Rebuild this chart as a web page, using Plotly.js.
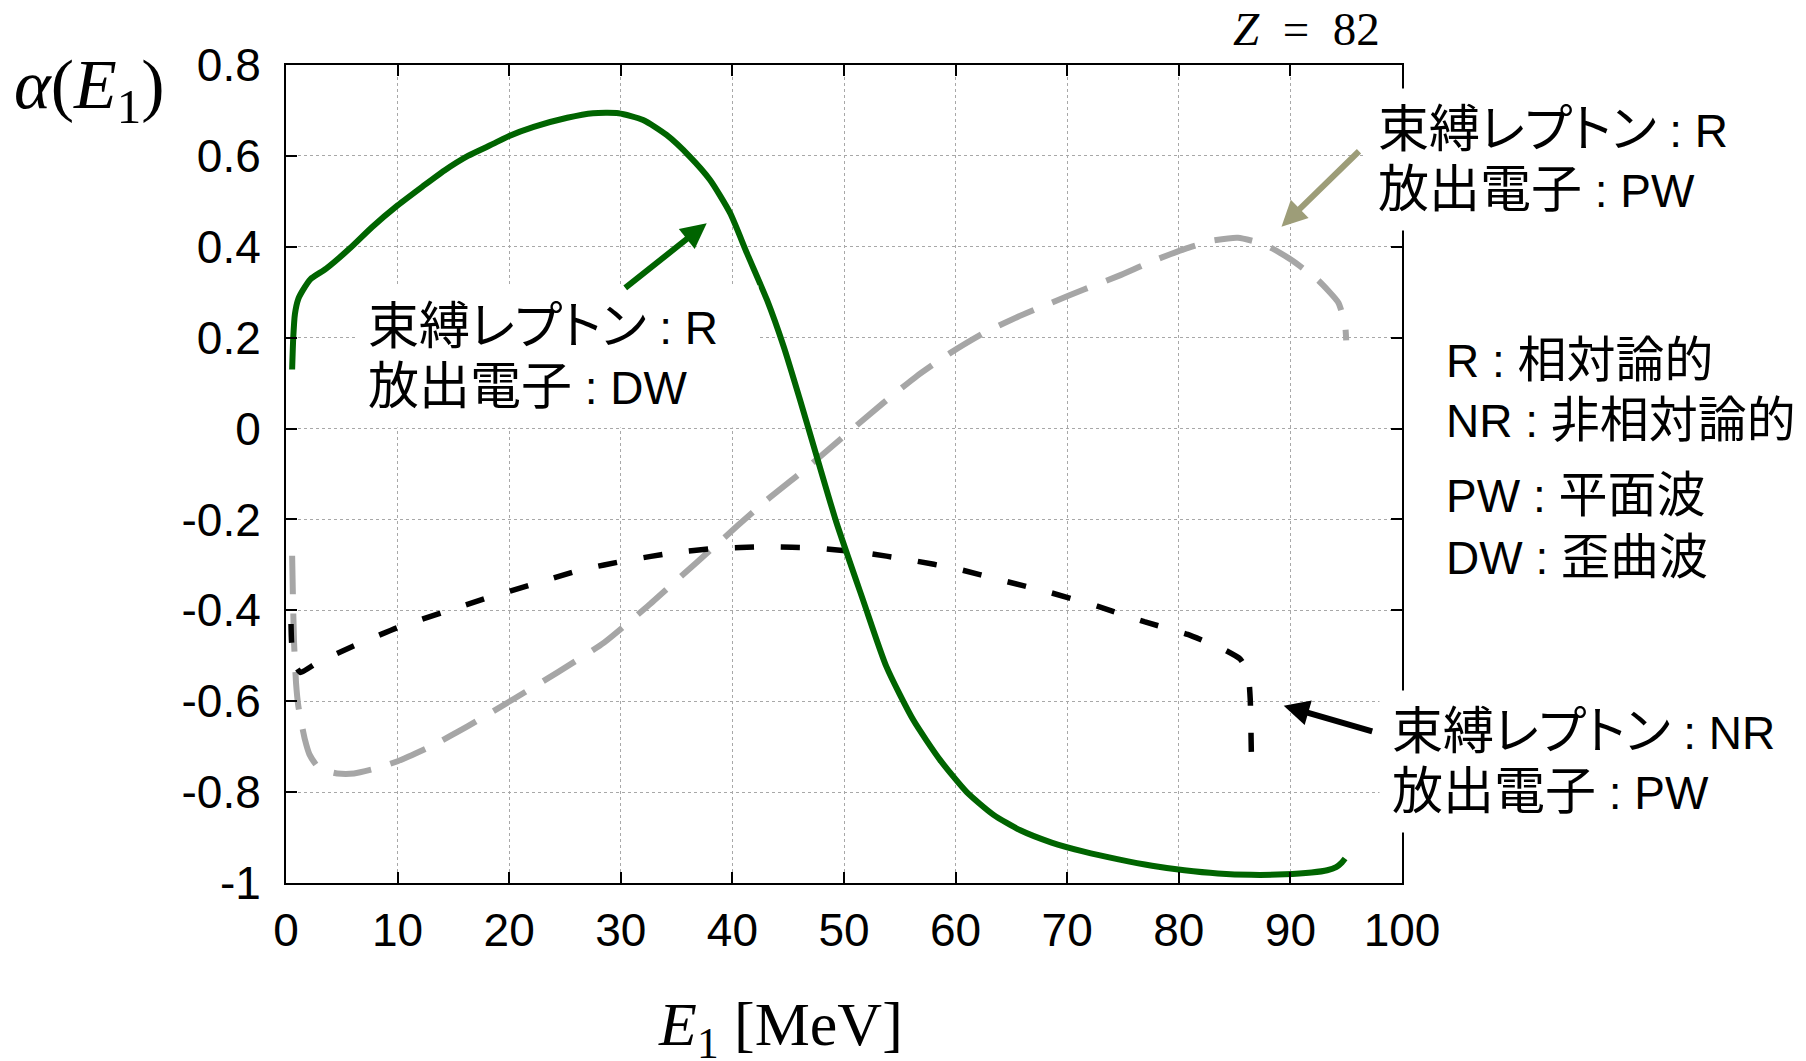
<!DOCTYPE html>
<html>
<head>
<meta charset="utf-8">
<script src="https://cdn.plot.ly/plotly-3.0.1.min.js"></script>
<style>
  html, body { margin: 0; padding: 0; background: #fff; }
  #chart { width: 1806px; height: 1061px; }
  /* proportional kana widths for the Japanese labels */
  #chart text { font-feature-settings: "palt" 1; }
</style>
</head>
<body>
<div id="chart"></div>
<script>
// Emitted-electron energy E1 [MeV] and asymmetry alpha(E1), Z = 82

// bound lepton: relativistic, emitted electron: distorted wave
const E_rdw = [0.55, 0.65, 0.8, 1.1, 1.5, 2.2, 3.6, 5.7, 7.7, 10, 12.2, 14.2, 16.3, 18.7, 20, 22.2, 25.2, 27.5, 29.8, 32.0,
               34.1, 36.2, 38.0, 39.8, 41.3, 43.1, 44.6, 46.0, 47.6, 49.3, 51.7, 53.8, 56.2, 58.6, 61.0, 63.4, 65.8, 68.6, 71.5, 74.6,
               77.6, 80.5, 83.5, 86.5, 89.5, 91.9, 93.3, 94.1, 94.6, 94.9];
const A_rdw = [0.13, 0.2, 0.252, 0.285, 0.304, 0.329, 0.352, 0.396, 0.443, 0.491, 0.532, 0.568, 0.600, 0.628, 0.644, 0.664, 0.684, 0.694, 0.694, 0.679,
               0.646, 0.598, 0.547, 0.474, 0.386, 0.283, 0.180, 0.068, -0.065, -0.205, -0.377, -0.524, -0.641, -0.729, -0.800, -0.850, -0.884, -0.911, -0.931, -0.948,
               -0.962, -0.972, -0.979, -0.982, -0.981, -0.977, -0.972, -0.965, -0.955, -0.946];

// bound lepton: relativistic, emitted electron: plane wave
const E_rpw = [0.55, 0.62, 0.72, 0.9, 1.1, 1.4, 1.7, 2.1, 2.8, 3.7, 4.6, 6.1, 7.9, 10, 13, 16.3, 20.4, 24.3, 28.5, 32.4,
               35.4, 38.1, 40.5, 43.1, 46.5, 49.6, 53.5, 56.5, 59.5, 62.5, 65.5, 68.6, 71.6, 74.6, 77.6, 80.5, 82.9, 85.3, 87.7, 90.1,
               92.5, 94.3, 94.9, 95.0];
const A_rpw = [-0.28, -0.37, -0.47, -0.56, -0.61, -0.65, -0.685, -0.717, -0.743, -0.754, -0.759, -0.759, -0.749, -0.732, -0.699, -0.655, -0.595, -0.537, -0.471, -0.391,
               -0.325, -0.266, -0.213, -0.157, -0.09, -0.025, 0.056, 0.115, 0.166, 0.21, 0.245, 0.277, 0.307, 0.336, 0.368, 0.395, 0.413, 0.42, 0.405, 0.371,
               0.326, 0.277, 0.228, 0.194];

// bound lepton: non-relativistic, emitted electron: plane wave
const E_nrpw = [0.45, 0.5, 0.8, 1.3, 2.8, 6.0, 10, 14.0, 18.1, 22.2, 26.4, 30.6, 34.8, 38.3, 43.1, 47.6, 51.7, 55.9, 60.2, 64.3,
                68.5, 72.7, 76.9, 80.8, 84.1, 85.5, 86.2, 86.4, 86.5];
const A_nrpw = [-0.43, -0.47, -0.52, -0.537, -0.515, -0.479, -0.438, -0.405, -0.372, -0.342, -0.311, -0.29, -0.273, -0.264, -0.26, -0.263, -0.273, -0.289, -0.309, -0.335,
                -0.361, -0.391, -0.425, -0.453, -0.487, -0.507, -0.536, -0.595, -0.713];

// axis ticks
const xTickVals = [0, 10, 20, 30, 40, 50, 60, 70, 80, 90, 100];
const xTickText = ['0', '10', '20', '30', '40', '50', '60', '70', '80', '90', '100'];
const yTickVals = [-1, -0.8, -0.6, -0.4, -0.2, 0, 0.2, 0.4, 0.6, 0.8];
const yTickText = ['-1', '-0.8', '-0.6', '-0.4', '-0.2', '0', '0.2', '0.4', '0.6', '0.8'];

// Japanese text is set a little larger than the Latin letters around it
const jp = (s, px) => '<span style="font-size:' + (px || 51) + 'px">' + s + '</span>';

// curve labels
const labelRDW = jp('束縛レプトン') + ' : R<br>' + jp('放出電子') + ' : DW';
const labelRPW = jp('束縛レプトン') + ' : R<br>' + jp('放出電子') + ' : PW';
const labelNRPW = jp('束縛レプトン') + ' : NR<br>' + jp('放出電子') + ' : PW';
// abbreviation key
const keyR = 'R : ' + jp('相対論的', 49);
const keyNR = 'NR : ' + jp('非相対論的', 49);
const keyPW = 'PW : ' + jp('平面波', 49);
const keyDW = 'DW : ' + jp('歪曲波', 49);

const SANS = 'Liberation Sans, Arial, Noto Sans CJK JP, sans-serif';
const SERIF = 'Liberation Serif, DejaVu Serif, serif';

const traces = [
  { x: E_rpw, y: A_rpw, type: 'scatter', mode: 'lines',
    line: { color: '#a6a6a6', width: 6, dash: '38px,20px', shape: 'spline', smoothing: 0.5 }, hoverinfo: 'skip' },
  { x: E_nrpw, y: A_nrpw, type: 'scatter', mode: 'lines',
    line: { color: '#000000', width: 5.5, dash: '19px,27px', shape: 'spline', smoothing: 0.4 }, hoverinfo: 'skip' },
  { x: E_rdw, y: A_rdw, type: 'scatter', mode: 'lines',
    line: { color: '#006400', width: 6, shape: 'spline', smoothing: 0.6 }, hoverinfo: 'skip' }
];

const axisCommon = {
  showline: true, linecolor: '#000', linewidth: 2, mirror: 'ticks',
  ticks: 'inside', ticklen: 11, tickwidth: 2, tickcolor: '#000',
  showgrid: true, gridcolor: '#a8a8a8', gridwidth: 1, griddash: 'dot',
  zeroline: false, tickmode: 'array',
  tickfont: { family: SANS, size: 46, color: '#000' }
};

const textFont = { family: SANS, size: 46, color: '#000' };

function keyNote(text, yPaper) {
  return { xref: 'paper', yref: 'paper', x: 1.0365, y: yPaper, xanchor: 'left', yanchor: 'middle',
           text: text, align: 'left', showarrow: false, font: textFont, borderpad: 2 };
}

const annotations = [
  // curve labels with white boxes
  { xref: 'paper', yref: 'paper', x: 0.0618, y: 0.6433, xanchor: 'left', yanchor: 'middle',
    text: labelRDW, align: 'left', showarrow: false, font: textFont, bgcolor: '#fff', borderpad: 12 },
  { xref: 'paper', yref: 'paper', x: 0.9665, y: 0.8839, xanchor: 'left', yanchor: 'middle',
    text: labelRPW, align: 'left', showarrow: false, font: textFont, bgcolor: '#fff', borderpad: 12 },
  { xref: 'paper', yref: 'paper', x: 0.9790, y: 0.1485, xanchor: 'left', yanchor: 'middle',
    text: labelNRPW, align: 'left', showarrow: false, font: textFont, bgcolor: '#fff', borderpad: 12 },
  // abbreviation key
  keyNote(keyR, 0.6395),
  keyNote(keyNR, 0.5660),
  keyNote(keyPW, 0.4740),
  keyNote(keyDW, 0.3990),
  // arrows
  { xref: 'x', yref: 'y', x: 37.7, y: 0.452, ax: -83, ay: 66, text: '', showarrow: true,
    arrowcolor: '#006400', arrowwidth: 6, arrowhead: 2, arrowsize: 0.85, standoff: 0, startstandoff: 0 },
  { xref: 'x', yref: 'y', x: 89.2, y: 0.444, ax: 79, ay: -77, text: '', showarrow: true,
    arrowcolor: '#9d9d78', arrowwidth: 6, arrowhead: 2, arrowsize: 0.85, standoff: 0, startstandoff: 0 },
  { xref: 'x', yref: 'y', x: 89.4, y: -0.610, ax: 90, ay: 26, text: '', showarrow: true,
    arrowcolor: '#000000', arrowwidth: 6, arrowhead: 2, arrowsize: 0.85, standoff: 0, startstandoff: 0 },
  // titles
  { xref: 'paper', yref: 'paper', x: -0.2455, y: 0.9694, xanchor: 'left', yanchor: 'middle',
    text: '<i>α</i>(<i>E</i><sub>1</sub>)', showarrow: false,
    font: { family: SERIF, size: 70, color: '#000' } },
  { xref: 'paper', yref: 'paper', x: 0.4435, y: -0.178, xanchor: 'center', yanchor: 'middle',
    text: '<i>E</i><sub>1</sub> [MeV]', showarrow: false,
    font: { family: SERIF, size: 62, color: '#000' } },
  { xref: 'paper', yref: 'paper', x: 0.982, y: 1.044, xanchor: 'right', yanchor: 'middle',
    text: '<i>Z</i>\u2002=\u200282', showarrow: false,
    font: { family: SERIF, size: 47, color: '#000' } }
];

const layout = {
  width: 1806, height: 1061,
  margin: { l: 286, r: 404, t: 65, b: 178 },
  paper_bgcolor: '#fff', plot_bgcolor: '#fff',
  showlegend: false,
  xaxis: Object.assign({}, axisCommon, {
    range: [0, 100], tickvals: xTickVals, ticktext: xTickText, ticklabelstandoff: 6
  }),
  yaxis: Object.assign({}, axisCommon, {
    range: [-1, 0.8], tickvals: yTickVals, ticktext: yTickText, ticklabelstandoff: 14
  }),
  annotations: annotations
};

Plotly.newPlot('chart', traces, layout, { staticPlot: true, displayModeBar: false });
</script>
</body>
</html>
